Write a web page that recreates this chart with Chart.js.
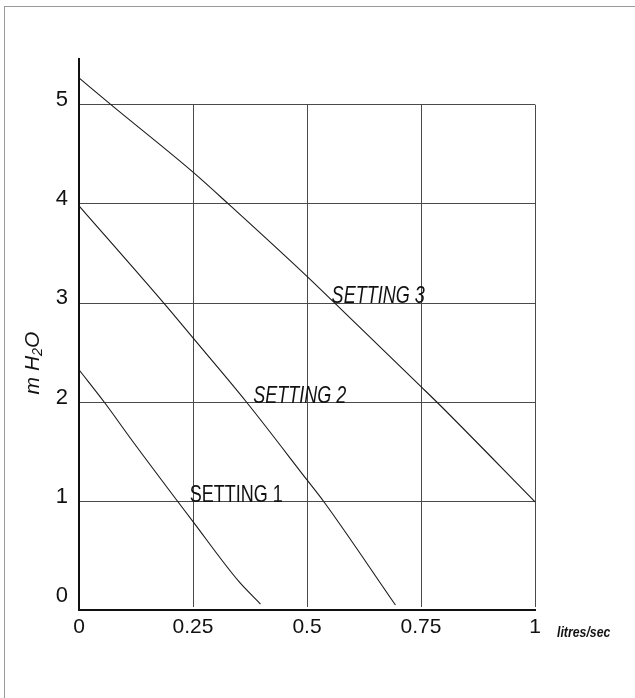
<!DOCTYPE html>
<html>
<head>
<meta charset="utf-8">
<script src="https://cdn.jsdelivr.net/npm/chart.js@4.4.1/dist/chart.umd.min.js"></script>
<style>
  html, body { margin: 0; padding: 0; background: #fff; }
  #wrap { position: relative; width: 635px; height: 698px; overflow: hidden; }
  #frame { position: absolute; left: 4px; top: 6px; width: 700px; height: 760px;
           border-left: 1px solid #9a9a9a; border-top: 1px solid #9a9a9a; }
  #c { position: absolute; left: 0; top: 0; }
</style>
</head>
<body>
<div id="wrap">
  <div id="frame"></div>
  <canvas id="c" width="635" height="698"></canvas>
</div>
<script>
// ---- data ----
const xTicks = [0, 0.25, 0.5, 0.75, 1];
const yTicks = [0, 1, 2, 3, 4, 5];
const xTickLabels = ["0", "0.25", "0.5", "0.75", "1"];

const setting1X = [0, 0.056, 0.116, 0.25, 0.35, 0.398];
const setting1Y = [2.33, 2.0, 1.62, 0.80, 0.20, -0.03];

const setting2X = [0, 0.186, 0.25, 0.368, 0.5, 0.537, 0.694];
const setting2Y = [3.98, 3.0, 2.65, 2.0, 1.22, 1.0, -0.04];

const setting3X = [0, 0.07, 0.25, 0.33, 0.5, 0.561, 0.75, 0.788, 1];
const setting3Y = [5.27, 5.0, 4.32, 3.99, 3.27, 3.0, 2.16, 1.99, 1.0];

const seriesNames = ["SETTING 1", "SETTING 2", "SETTING 3"];
const labelAnchorX = [0.243, 0.382, 0.554];
const labelAnchorY = [1, 2, 3];

const yTitle = "m H\u2082O";
const xTitle = "litres/sec";

// ---- chart ----
const FONT = '"Liberation Sans", Arial, sans-serif';
const toPts = (xs, ys) => xs.map((x, i) => ({ x: x, y: ys[i] }));

const lineStyle = {
  borderColor: '#1a1a1a',
  borderWidth: 1.1,
  pointRadius: 0,
  cubicInterpolationMode: 'monotone',
  fill: false,
  clip: false
};

function narrowText(ctx, text, x, y, squeeze) {
  ctx.save();
  ctx.translate(x, y);
  ctx.scale(squeeze, 1);
  ctx.fillText(text, 0, 0);
  ctx.restore();
}

const extras = {
  id: 'extras',
  beforeDatasetsDraw(chart) {
    const { ctx, scales: { x, y }, chartArea } = chart;
    ctx.save();
    ctx.strokeStyle = '#4a4a4a';
    ctx.lineWidth = 1;
    xTicks.forEach(v => {
      if (v === 0) return;
      const px = Math.round(x.getPixelForValue(v)) + 0.5;
      ctx.beginPath();
      ctx.moveTo(px, y.getPixelForValue(5));
      ctx.lineTo(px, chartArea.bottom - 3);
      ctx.stroke();
    });
    ctx.restore();
  },
  afterDraw(chart) {
    const { ctx, scales: { x, y } } = chart;
    ctx.save();
    ctx.fillStyle = '#111';
    ctx.textBaseline = 'alphabetic';
    ctx.textAlign = 'left';
    seriesNames.forEach((name, i) => {
      ctx.font = (i === 0 ? '' : 'italic ') + '24px ' + FONT;
      narrowText(ctx, name, x.getPixelForValue(labelAnchorX[i]), y.getPixelForValue(labelAnchorY[i]), 0.75);
    });
    // y title
    ctx.save();
    ctx.translate(33, 363);
    ctx.rotate(-Math.PI / 2);
    ctx.textAlign = 'center';
    ctx.textBaseline = 'middle';
    ctx.font = 'italic 21px ' + FONT;
    ctx.fillText(yTitle, 0, 0);
    ctx.restore();
    // x title
    ctx.textAlign = 'left';
    ctx.textBaseline = 'middle';
    ctx.font = 'italic bold 15px ' + FONT;
    narrowText(ctx, xTitle, 557, 633, 0.82);
    ctx.restore();
  }
};

new Chart(document.getElementById('c'), {
  type: 'line',
  data: {
    datasets: [
      Object.assign({ label: seriesNames[0], data: toPts(setting1X, setting1Y) }, lineStyle),
      Object.assign({ label: seriesNames[1], data: toPts(setting2X, setting2Y) }, lineStyle),
      Object.assign({ label: seriesNames[2], data: toPts(setting3X, setting3Y) }, lineStyle)
    ]
  },
  options: {
    responsive: false,
    animation: false,
    layout: { padding: { left: 0, right: 100, top: 59, bottom: 0 } },
    plugins: { legend: { display: false }, tooltip: { enabled: false } },
    scales: {
      x: {
        type: 'linear',
        min: 0, max: 1,
        afterBuildTicks: s => { s.ticks = xTicks.map(v => ({ value: v })); },
        afterFit: s => { s.height = 88; },
        grid: { display: false, drawTicks: false },
        border: { display: true, color: '#111', width: 2 },
        ticks: {
          color: '#111',
          padding: 5,
          maxRotation: 0,
          autoSkip: false,
          font: { family: FONT, size: 21 },
          callback: (v) => xTickLabels[xTicks.indexOf(v)]
        }
      },
      y: {
        type: 'linear',
        min: -0.09, max: 5.46,
        afterBuildTicks: s => { s.ticks = yTicks.map(v => ({ value: v })); },
        afterFit: s => { s.width = 79; },
        grid: {
          drawTicks: false,
          color: c => (c.tick && c.tick.value === 0) ? 'rgba(0,0,0,0)' : '#4a4a4a',
          lineWidth: 1
        },
        border: { display: true, color: '#111', width: 2 },
        ticks: {
          color: '#111',
          padding: 11,
          labelOffset: -5,
          font: { family: FONT, size: 22 },
          callback: v => String(v)
        }
      }
    }
  },
  plugins: [extras]
});
</script>
</body>
</html>
